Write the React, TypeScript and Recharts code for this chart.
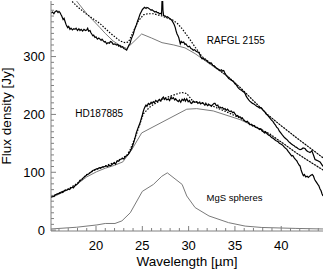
import React from 'react'
import { LineChart, Line, XAxis, YAxis, ReferenceDot } from 'recharts'

// axis ranges
const X_DOMAIN = [15.14, 44.51]
const Y_DOMAIN = [-1.5, 396]

const xTicks = [16, 17, 18, 19, 20, 21, 22, 23, 24, 25, 26, 27, 28, 29, 30, 31, 32, 33, 34, 35, 36, 37, 38, 39, 40, 41, 42, 43, 44]
const xMajor = [20, 25, 30, 35, 40]
const yTicks = [0, 10, 20, 30, 40, 50, 60, 70, 80, 90, 100, 110, 120, 130, 140, 150, 160, 170, 180, 190, 200, 210, 220, 230, 240, 250, 260, 270, 280, 290, 300, 310, 320, 330, 340, 350, 360, 370, 380, 390]
const yMajor = [0, 100, 200, 300]

// [wavelength um, flux Jy]
const rafglObs: [number, number][] = [
  [15.14, 375], [15.3, 377], [15.45, 374], [15.6, 378], [15.76, 379], [15.9, 376], [16.0, 378], [16.11, 376],
  [16.2, 373], [16.3, 370], [16.45, 364], [16.55, 366], [16.65, 361], [16.75, 356], [16.84, 353], [16.95, 350],
  [17.05, 352], [17.19, 347], [17.3, 349], [17.45, 346], [17.6, 348], [17.73, 347], [17.85, 349], [18.0, 345],
  [18.15, 348], [18.27, 345], [18.4, 347], [18.55, 344], [18.7, 347], [18.85, 345], [18.99, 346], [19.1, 349],
  [19.2, 344], [19.35, 345], [19.45, 341], [19.54, 339], [19.65, 336], [19.75, 337], [19.89, 333], [20.0, 334],
  [20.15, 330], [20.3, 332], [20.43, 330], [20.55, 328], [20.65, 330], [20.79, 327], [20.9, 325], [21.0, 326],
  [21.16, 322], [21.3, 324], [21.45, 323], [21.55, 326], [21.7, 325], [21.85, 321], [22.05, 322], [22.2, 320],
  [22.35, 321], [22.45, 318], [22.59, 319], [22.7, 316], [22.85, 317], [23.0, 314], [23.13, 313], [23.22, 312],
  [23.31, 311], [23.45, 316], [23.55, 320], [23.67, 322], [23.8, 330], [23.9, 334], [24.03, 339], [24.15, 346],
  [24.27, 351], [24.39, 356], [24.5, 362], [24.6, 366], [24.75, 373], [24.9, 378], [25.0, 381], [25.11, 383],
  [25.25, 385], [25.4, 383], [25.5, 385], [25.65, 384], [25.8, 382], [25.95, 380], [26.05, 381], [26.19, 379],
  [26.35, 377], [26.5, 378], [26.6, 376], [26.73, 376], [26.85, 374], [27.0, 375], [27.08, 373], [27.13, 398],
  [27.18, 405], [27.23, 380], [27.3, 371], [27.48, 370], [27.6, 368], [27.7, 369], [27.85, 367], [28.0, 365],
  [28.1, 364], [28.21, 362], [28.35, 358], [28.45, 355], [28.56, 350], [28.65, 344], [28.75, 339], [28.85, 336],
  [28.93, 333], [29.02, 327], [29.1, 322], [29.2, 326], [29.3, 324], [29.47, 325], [29.6, 321], [29.7, 322],
  [29.83, 319], [29.95, 317], [30.1, 318], [30.25, 314], [30.37, 313], [30.5, 311], [30.65, 312], [30.8, 309],
  [30.95, 308], [31.09, 307], [31.2, 304], [31.3, 300], [31.45, 296], [31.6, 297], [31.75, 294], [31.9, 294],
  [32.05, 291], [32.17, 290], [32.3, 288], [32.45, 289], [32.6, 285], [32.75, 284], [32.88, 282], [33.0, 280],
  [33.15, 279], [33.3, 277], [33.42, 276], [33.55, 277], [33.65, 275], [33.79, 276], [33.9, 272], [34.05, 268],
  [34.2, 265], [34.33, 262], [34.45, 261], [34.6, 259], [34.75, 258], [34.87, 256], [35.0, 253], [35.15, 251],
  [35.3, 247], [35.41, 245], [35.55, 243], [35.7, 242], [35.82, 240], [35.95, 239], [36.1, 236], [36.2, 232],
  [36.35, 228], [36.49, 225], [36.6, 223], [36.75, 221], [36.9, 219], [37.05, 218], [37.2, 216], [37.35, 214],
  [37.5, 213], [37.65, 211], [37.8, 212], [37.93, 210], [38.05, 207], [38.2, 205], [38.35, 201], [38.5, 199],
  [38.65, 196], [38.8, 193], [38.95, 190], [39.1, 188], [39.25, 184], [39.36, 182], [39.5, 178], [39.65, 176],
  [39.8, 171], [39.95, 168], [40.09, 165], [40.2, 163], [40.35, 160], [40.5, 158], [40.65, 156], [40.8, 153],
  [40.95, 151], [41.1, 149], [41.25, 147], [41.4, 146], [41.5, 144], [41.65, 143], [41.8, 141], [42.03, 139],
  [42.2, 140], [42.35, 142], [42.57, 141], [42.7, 138], [42.85, 136], [43.0, 135], [43.11, 134], [43.3, 137],
  [43.45, 131], [43.65, 122], [43.8, 121], [43.95, 120], [44.19, 118], [44.35, 114], [44.51, 110],
]

const rafglModel: [number, number][] = [
  [15.14, 424], [16, 413], [17, 401], [17.37, 396], [18, 386], [19, 373], [20.43, 357], [21.5, 341],
  [22.59, 327], [23.13, 324], [23.5, 325], [24.03, 343], [24.5, 360], [25.11, 372], [25.6, 374], [26.19, 374],
  [27.13, 370], [27.8, 366], [28.21, 364], [28.8, 357], [29.3, 348], [29.9, 335], [30.72, 316], [31.45, 300],
  [32.17, 291], [33, 280], [34.36, 264], [35.6, 246], [37.17, 221], [38.5, 200], [39.87, 182], [41.7, 159],
  [43.11, 142], [44.51, 125],
]

const rafglCont: [number, number][] = [
  [15.14, 446], [16, 430], [17, 411], [17.9, 396], [19, 374], [20.43, 350], [21, 340], [21.84, 327],
  [22.6, 319], [23.31, 314], [24.1, 326], [24.93, 339], [26, 332], [27.13, 324], [28.4, 320], [29.61, 315],
  [30.7, 305], [31.77, 293], [33, 279], [34.36, 264], [35.6, 246], [37.17, 221], [38.5, 200], [39.87, 182],
  [41.7, 159], [43.11, 142], [44.51, 125],
]

const hdObs: [number, number][] = [
  [15.14, 57], [15.3, 59], [15.45, 58], [15.6, 61], [15.75, 62], [15.93, 63], [16.1, 64], [16.25, 66],
  [16.4, 65], [16.55, 68], [16.7, 69], [16.84, 69], [17.0, 71], [17.15, 70], [17.3, 73], [17.45, 74],
  [17.55, 73], [17.7, 76], [17.85, 78], [18.0, 80], [18.15, 83], [18.27, 86], [18.46, 87], [18.6, 90],
  [18.75, 92], [18.9, 94], [19.05, 96], [19.2, 97], [19.35, 99], [19.5, 101], [19.65, 103], [19.8, 104],
  [19.95, 105], [20.07, 106], [20.2, 106], [20.35, 108], [20.5, 107], [20.65, 109], [20.79, 109], [20.95, 110],
  [21.1, 111], [21.25, 110], [21.4, 112], [21.55, 111], [21.7, 113], [21.85, 115], [22.0, 116], [22.1, 114],
  [22.23, 118], [22.35, 120], [22.45, 119], [22.59, 122], [22.75, 123], [22.9, 124], [23.0, 123], [23.13, 126],
  [23.25, 128], [23.35, 129], [23.49, 131], [23.6, 134], [23.75, 138], [23.86, 142], [24.0, 148], [24.1, 153],
  [24.21, 159], [24.35, 168], [24.5, 175], [24.62, 180], [24.75, 185], [24.87, 192], [25.0, 199], [25.1, 205],
  [25.2, 210], [25.29, 213], [25.4, 216], [25.5, 214], [25.65, 219], [25.8, 217], [25.95, 221], [26.05, 219],
  [26.19, 222], [26.3, 220], [26.45, 224], [26.6, 222], [26.73, 224], [26.85, 226], [27.0, 223], [27.1, 227],
  [27.27, 230], [27.4, 226], [27.5, 228], [27.65, 225], [27.81, 227], [27.95, 224], [28.1, 230], [28.2, 227],
  [28.35, 229], [28.5, 225], [28.6, 227], [28.75, 224], [28.89, 222], [29.0, 225], [29.15, 221], [29.3, 226],
  [29.43, 224], [29.55, 227], [29.65, 223], [29.8, 227], [29.95, 222], [30.1, 224], [30.2, 220], [30.33, 219],
  [30.5, 223], [30.65, 221], [30.87, 222], [31.0, 219], [31.15, 221], [31.3, 218], [31.45, 220], [31.59, 219],
  [31.75, 216], [31.9, 218], [32.05, 215], [32.2, 217], [32.31, 216], [32.45, 214], [32.6, 217], [32.75, 219],
  [32.85, 219], [33.0, 215], [33.15, 216], [33.25, 212], [33.39, 213], [33.5, 211], [33.65, 212], [33.8, 209],
  [33.93, 210], [34.05, 207], [34.2, 209], [34.35, 206], [34.47, 205], [34.6, 206], [34.75, 203], [34.88, 204],
  [35.01, 201], [35.1, 199], [35.19, 197], [35.3, 198], [35.45, 195], [35.55, 196], [35.7, 193], [35.8, 194],
  [35.91, 191], [36.05, 189], [36.2, 187], [36.35, 188], [36.5, 184], [36.63, 182], [36.75, 183], [36.9, 180],
  [37.05, 181], [37.2, 178], [37.35, 177], [37.5, 176], [37.65, 174], [37.8, 175], [37.95, 171], [38.07, 170],
  [38.2, 168], [38.35, 169], [38.5, 166], [38.65, 164], [38.79, 163], [38.95, 160], [39.1, 159], [39.25, 157],
  [39.4, 155], [39.51, 154], [39.65, 153], [39.8, 150], [39.95, 149], [40.05, 148], [40.2, 146], [40.35, 143],
  [40.5, 141], [40.59, 140], [40.75, 136], [40.9, 133], [41.0, 131], [41.13, 128], [41.25, 129], [41.4, 125],
  [41.55, 122], [41.67, 120], [41.8, 116], [41.95, 112], [42.03, 111], [42.15, 104], [42.25, 99], [42.39, 94],
  [42.5, 96], [42.65, 92], [42.8, 93], [42.93, 91], [43.05, 93], [43.2, 95], [43.35, 96], [43.47, 94],
  [43.6, 88], [43.7, 85], [43.83, 82], [43.95, 79], [44.05, 77], [44.19, 71], [44.3, 68], [44.4, 63], [44.51, 59],
]

const hdModel: [number, number][] = [
  [15.14, 57], [16, 64], [17, 71], [18, 81], [19, 96], [20, 105], [21, 111], [22, 117], [22.8, 124],
  [23.3, 129], [23.67, 138], [24.39, 167], [25.11, 201], [25.83, 213], [26.5, 220], [27.27, 227], [28.3, 233],
  [29.25, 238], [29.8, 236], [30.51, 222], [31.2, 221], [31.95, 219], [32.8, 213], [34, 205], [35.5, 194],
  [37, 181], [38.79, 166], [40.2, 150], [41.67, 133], [43.11, 118], [44.51, 104],
]

const hdCont: [number, number][] = [
  [15.14, 56], [16, 62], [17, 70], [18, 80], [19, 92], [20.07, 101], [21, 107], [22, 112], [22.9, 118],
  [23.86, 139], [24.93, 168], [29.8, 209], [30.87, 210], [32.66, 206], [35.55, 191], [36.63, 183], [37.7, 175],
  [38.79, 165], [40.2, 150], [41.67, 133], [43.11, 118], [44.51, 104],
]

const mgsSpheres: [number, number][] = [
  [15.14, 2], [17.9, 5], [20.1, 9], [21.0, 11.5], [22.05, 11.5], [22.8, 16], [23.7, 30], [25.0, 67],
  [26.2, 79], [27.1, 93], [27.7, 99], [29.3, 79], [29.8, 59], [30.7, 39], [32.2, 24.5], [34.3, 13],
  [36.1, 7], [37.9, 4.6], [41.5, 3], [44.51, 2],
]

const AXIS = '#808080'
const GREY = '#7a7a7a'

const toPoints = (rows: [number, number][]) => rows.map(([x, y]) => ({ x, y }))

const BottomTick = ({ x, y, payload }: any) => {
  const major = xMajor.includes(payload.value)
  return (
    <g>
      <line x1={x} x2={x} y1={y} y2={y - (major ? 5 : 3)} stroke={AXIS} />
      {major && (
        <text x={x} y={y + 19} textAnchor="middle" fontSize={13} fill="#000">{payload.value}</text>
      )}
    </g>
  )
}

const TopTick = ({ x, y, payload }: any) => {
  const major = xMajor.includes(payload.value)
  return <line x1={x} x2={x} y1={y} y2={y + (major ? 5 : 3)} stroke={AXIS} />
}

const LeftTick = ({ x, y, payload }: any) => {
  const major = yMajor.includes(payload.value)
  return (
    <g>
      <line x1={x} x2={x + (major ? 5 : 3)} y1={y} y2={y} stroke={AXIS} />
      {major && (
        <text x={x - 6} y={y + 4.6} textAnchor="end" fontSize={13} fill="#000">{payload.value}</text>
      )}
    </g>
  )
}

const RightTick = ({ x, y, payload }: any) => {
  const major = yMajor.includes(payload.value)
  return <line x1={x} x2={x - (major ? 5 : 3)} y1={y} y2={y} stroke={AXIS} />
}

export default function App() {
  return (
    <div style={{ position: 'absolute', left: 0, top: 0, width: 324, height: 270, background: '#fff', fontFamily: '"Liberation Sans", Arial, sans-serif' }}>
      <LineChart width={324} height={270} margin={{ top: 1, right: 1, bottom: 0, left: 0 }}>
        <XAxis
          type="number" dataKey="x" domain={X_DOMAIN} allowDataOverflow ticks={xTicks} interval={0}
          height={39} tickSize={0} tickMargin={0} tick={<BottomTick />} axisLine={{ stroke: AXIS }}
          label={{ value: 'Wavelength [µm]', position: 'insideBottom', offset: 4, fontSize: 13.5, fill: '#000' }}
        />
        <XAxis
          xAxisId="top" orientation="top" type="number" domain={X_DOMAIN} allowDataOverflow ticks={xTicks}
          interval={0} height={0} tickSize={0} tickMargin={0} tick={<TopTick />} axisLine={{ stroke: AXIS }}
        />
        <YAxis
          type="number" domain={Y_DOMAIN} allowDataOverflow ticks={yTicks} interval={0} width={51}
          tickSize={0} tickMargin={0} tick={<LeftTick />} axisLine={{ stroke: AXIS }}
          label={{ value: 'Flux density [Jy]', angle: -90, position: 'center', dx: -19, fontSize: 13.5, fill: '#000' }}
        />
        <YAxis
          yAxisId="right" orientation="right" type="number" domain={Y_DOMAIN} allowDataOverflow ticks={yTicks}
          interval={0} width={0} tickSize={0} tickMargin={0} tick={<RightTick />} axisLine={{ stroke: AXIS }}
        />

        <Line data={toPoints(rafglCont)} dataKey="y" stroke={GREY} strokeWidth={1} dot={false} isAnimationActive={false} />
        <Line data={toPoints(hdCont)} dataKey="y" stroke={GREY} strokeWidth={1} dot={false} isAnimationActive={false} />
        <Line data={toPoints(mgsSpheres)} dataKey="y" stroke={GREY} strokeWidth={1} dot={false} isAnimationActive={false} />
        <Line data={toPoints(rafglModel)} dataKey="y" stroke="#000" strokeWidth={1.2} strokeDasharray="1.5 1.5" dot={false} isAnimationActive={false} />
        <Line data={toPoints(hdModel)} dataKey="y" stroke="#000" strokeWidth={1.2} strokeDasharray="1.5 1.5" dot={false} isAnimationActive={false} />
        <Line data={toPoints(rafglObs)} dataKey="y" stroke="#000" strokeWidth={1.2} dot={false} isAnimationActive={false} />
        <Line data={toPoints(hdObs)} dataKey="y" stroke="#000" strokeWidth={1.2} dot={false} isAnimationActive={false} />

        <ReferenceDot x={35.1} y={327} r={0} fill="none" stroke="none"
          label={{ value: 'RAFGL 2155', position: 'center', fontSize: 10, fill: '#000' }} />
        <ReferenceDot x={20.35} y={202} r={0} fill="none" stroke="none"
          label={{ value: 'HD187885', position: 'center', fontSize: 10, fill: '#000' }} />
        <ReferenceDot x={34.95} y={56} r={0} fill="none" stroke="none"
          label={{ value: 'MgS spheres', position: 'center', fontSize: 9.5, fill: '#000' }} />
      </LineChart>
    </div>
  )
}
